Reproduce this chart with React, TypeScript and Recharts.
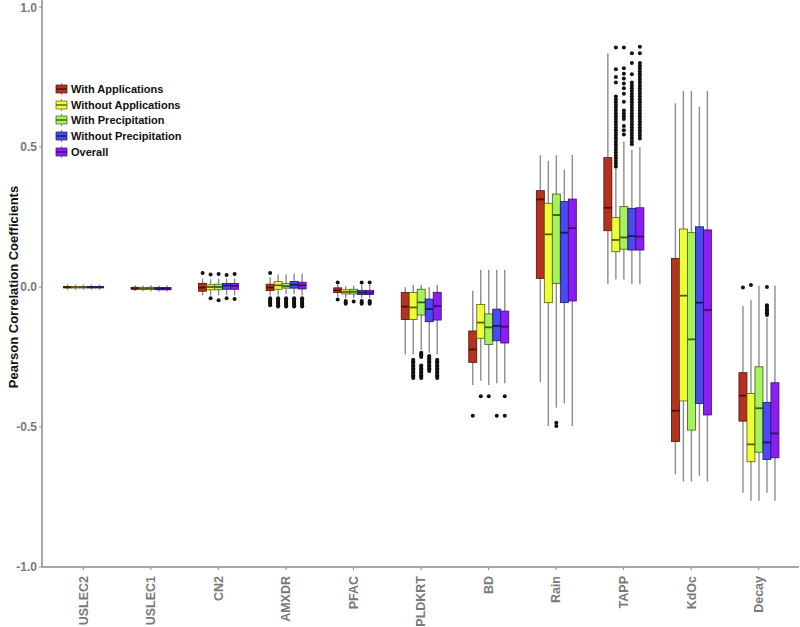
import React from 'react';
import { ComposedChart, Bar, XAxis, YAxis } from 'recharts';

const categories = ['USLEC2', 'USLEC1', 'CN2', 'AMXDR', 'PFAC', 'PLDKRT', 'BD', 'Rain', 'TAPP', 'KdOc', 'Decay'];
const seriesNames = ['With Applications', 'Without Applications', 'With Precipitation', 'Without Precipitation', 'Overall'];
const seriesFill = ['#B5321F', '#EDFF36', '#A5F25A', '#4A4AF2', '#8C1EF5'];
const seriesStroke = ['#4a1208', '#5c5c10', '#3e5e1c', '#1a1a5c', '#3a0c66'];
const yTicks = [-1, -0.5, 0, 0.5, 1];

// [min, q1, median, q3, max] for each category
const withApplications = [
  [-0.01, -0.003, -0.001, 0.002, 0.009],
  [-0.014, -0.008, -0.005, -0.001, 0.006],
  [-0.03, -0.015, -0.002, 0.013, 0.03],
  [-0.03, -0.013, -0.002, 0.01, 0.035],
  [-0.035, -0.02, -0.012, -0.003, 0.008],
  [-0.24, -0.116, -0.07, -0.02, -0.001],
  [-0.35, -0.269, -0.223, -0.157, -0.013],
  [-0.34, 0.031, 0.313, 0.344, 0.471],
  [0.01, 0.201, 0.283, 0.462, 0.835],
  [-0.669, -0.552, -0.442, 0.102, 0.656],
  [-0.735, -0.479, -0.388, -0.306, -0.068],
];
const withoutApplications = [
  [-0.01, -0.003, -0.001, 0.002, 0.009],
  [-0.015, -0.009, -0.006, -0.002, 0.005],
  [-0.03, -0.01, 0.0, 0.008, 0.028],
  [-0.03, -0.008, 0.006, 0.019, 0.045],
  [-0.04, -0.025, -0.018, -0.01, 0.003],
  [-0.24, -0.116, -0.073, -0.02, 0.007],
  [-0.335, -0.183, -0.127, -0.062, 0.061],
  [-0.496, -0.056, 0.188, 0.299, 0.451],
  [0.027, 0.126, 0.168, 0.248, 0.43],
  [-0.695, -0.407, -0.031, 0.207, 0.7],
  [-0.763, -0.624, -0.562, -0.38, -0.046],
];
const withPrecipitation = [
  [-0.01, -0.003, -0.001, 0.002, 0.009],
  [-0.015, -0.008, -0.005, -0.001, 0.006],
  [-0.03, -0.01, 0.0, 0.01, 0.03],
  [-0.025, -0.004, 0.003, 0.013, 0.045],
  [-0.04, -0.025, -0.017, -0.008, 0.005],
  [-0.225, -0.1, -0.055, -0.008, 0.007],
  [-0.35, -0.205, -0.144, -0.096, 0.061],
  [-0.431, 0.013, 0.257, 0.332, 0.471],
  [0.027, 0.135, 0.177, 0.287, 0.52],
  [-0.695, -0.511, -0.187, 0.194, 0.7],
  [-0.763, -0.59, -0.433, -0.285, 0.005],
];
const withoutPrecipitation = [
  [-0.01, -0.003, -0.001, 0.002, 0.009],
  [-0.016, -0.01, -0.006, -0.002, 0.005],
  [-0.028, -0.008, 0.005, 0.013, 0.03],
  [-0.025, -0.004, 0.008, 0.02, 0.048],
  [-0.04, -0.027, -0.02, -0.012, 0.008],
  [-0.235, -0.124, -0.079, -0.043, -0.001],
  [-0.344, -0.192, -0.139, -0.079, 0.061],
  [-0.415, -0.056, 0.194, 0.305, 0.42],
  [0.01, 0.132, 0.182, 0.281, 0.49],
  [-0.674, -0.416, -0.056, 0.215, 0.644],
  [-0.735, -0.616, -0.555, -0.412, -0.11],
];
const overall = [
  [-0.01, -0.003, -0.001, 0.002, 0.009],
  [-0.016, -0.01, -0.006, -0.002, 0.005],
  [-0.03, -0.008, 0.004, 0.013, 0.03],
  [-0.03, -0.007, 0.006, 0.017, 0.048],
  [-0.04, -0.027, -0.02, -0.012, 0.008],
  [-0.24, -0.118, -0.068, -0.019, 0.007],
  [-0.344, -0.2, -0.142, -0.086, 0.061],
  [-0.496, -0.05, 0.21, 0.314, 0.471],
  [0.01, 0.132, 0.18, 0.283, 0.5],
  [-0.695, -0.457, -0.082, 0.204, 0.7],
  [-0.763, -0.61, -0.523, -0.342, 0.005],
];

// outlier points, one list per category
const withApplicationsOut = [
  [], [], [0.05],
  [0.05, -0.04, -0.045, -0.05, -0.055, -0.06, -0.065],
  [0.016, -0.045], [], [-0.46], [], [], [], [-0.002],
];
const withoutApplicationsOut = [
  [], [], [0.045, -0.04],
  [-0.04, -0.045, -0.05, -0.055, -0.06, -0.065, -0.07],
  [-0.05, -0.055, -0.06],
  [-0.26, -0.265, -0.27, -0.275, -0.28, -0.285, -0.29, -0.295, -0.3, -0.305, -0.31, -0.315, -0.32, -0.325],
  [-0.39], [],
  [0.43, 0.44, 0.45, 0.46, 0.47, 0.48, 0.49, 0.5, 0.51, 0.52, 0.53, 0.54, 0.55, 0.56, 0.57, 0.58, 0.59, 0.6,
    0.61, 0.62, 0.63, 0.64, 0.65, 0.66, 0.67, 0.68, 0.73, 0.75, 0.778, 0.855],
  [], [0.007],
];
const withPrecipitationOut = [
  [], [], [0.046, -0.047],
  [-0.04, -0.045, -0.05, -0.055, -0.06, -0.065, -0.07],
  [-0.052],
  [-0.235, -0.24, -0.245, -0.25, -0.28, -0.285, -0.29, -0.295, -0.3, -0.305, -0.31, -0.315, -0.32, -0.325],
  [-0.39], [-0.485, -0.496],
  [0.545, 0.56, 0.575, 0.6, 0.61, 0.62, 0.63, 0.662, 0.69, 0.71, 0.727, 0.745, 0.762, 0.781, 0.855],
  [], [],
];
const withoutPrecipitationOut = [
  [], [], [0.043, -0.04],
  [-0.04, -0.045, -0.05, -0.055, -0.06, -0.065, -0.07],
  [0.016, -0.05, -0.055, -0.06],
  [-0.246, -0.25, -0.255, -0.26, -0.265, -0.27, -0.275, -0.28, -0.285, -0.29, -0.295, -0.3],
  [-0.46], [],
  [0.51, 0.52, 0.53, 0.54, 0.55, 0.56, 0.57, 0.58, 0.59, 0.6, 0.61, 0.62, 0.63, 0.64, 0.65, 0.66, 0.67, 0.68,
    0.69, 0.7, 0.71, 0.72, 0.73, 0.76, 0.8, 0.835],
  [], [0.0, -0.065, -0.07, -0.075, -0.08, -0.085, -0.09, -0.095, -0.1],
];
const overallOut = [
  [], [], [0.046, -0.043],
  [-0.04, -0.045, -0.05, -0.055, -0.06, -0.065, -0.07],
  [0.016, -0.05, -0.055, -0.06],
  [-0.26, -0.265, -0.27, -0.275, -0.28, -0.285, -0.29, -0.295, -0.3, -0.305, -0.31, -0.315, -0.32, -0.325],
  [-0.39, -0.46], [],
  [0.53, 0.54, 0.55, 0.56, 0.57, 0.58, 0.59, 0.6, 0.61, 0.62, 0.63, 0.64, 0.65, 0.66, 0.67, 0.68, 0.69, 0.7,
    0.71, 0.72, 0.73, 0.74, 0.75, 0.76, 0.77, 0.78, 0.79, 0.8, 0.835, 0.858],
  [], [],
];

const allStats = [withApplications, withoutApplications, withPrecipitation, withoutPrecipitation, overall];
const allOut = [withApplicationsOut, withoutApplicationsOut, withPrecipitationOut, withoutPrecipitationOut, overallOut];

const data = categories.map((name, ci) => ({
  name,
  stats: allStats.map((s) => s[ci]),
  out: allOut.map((o) => o[ci]),
}));

const FONT = '"Liberation Sans", Arial, sans-serif';

const BoxShape = (props: any) => {
  const { x, y, width, height, payload, si } = props;
  if (!payload) return null;
  const [lo, q1, med, q3, hi] = payload.stats[si];
  const top = Math.min(y, y + height);
  const h = Math.abs(height);
  const px = (v: number) => top + (h * (hi - v)) / (hi - lo);
  const cx = x + width / 2;
  const outs: number[] = payload.out[si];
  return (
    <g>
      <line x1={cx} x2={cx} y1={px(hi)} y2={px(lo)} stroke="#8c8c8c" strokeWidth={1.4} />
      <rect x={x} y={px(q3)} width={width} height={Math.max(px(q1) - px(q3), 0.8)}
        fill={seriesFill[si]} stroke={seriesStroke[si]} strokeWidth={0.8} />
      <line x1={x} x2={x + width} y1={px(med)} y2={px(med)} stroke={seriesStroke[si]} strokeWidth={1.8} />
      {outs.map((v, k) => (
        <circle key={k} cx={cx} cy={px(v)} r={2} fill="#111" />
      ))}
    </g>
  );
};

const XTick = (props: any) => {
  const { x, y, payload } = props;
  return (
    <g transform={`translate(${x},${y + 4})`}>
      <text transform="rotate(-90)" textAnchor="end" dy="0.35em" fill="#7a7a7a"
        fontSize={12.5} fontWeight="bold" fontFamily={FONT}>
        {payload.value}
      </text>
    </g>
  );
};

const LegendBox = () => (
  <div style={{ position: 'absolute', left: 55, top: 81, fontFamily: FONT, fontSize: 11, fontWeight: 'bold', color: '#111' }}>
    {seriesNames.map((n, i) => (
      <div key={n} style={{ display: 'flex', alignItems: 'center', height: 15.7 }}>
        <svg width={14} height={14} style={{ marginRight: 2 }}>
          <line x1={6.5} x2={6.5} y1={1} y2={13} stroke="#8c8c8c" strokeWidth={1.2} />
          <rect x={1} y={3} width={11} height={8} fill={seriesFill[i]} stroke={seriesStroke[i]} strokeWidth={0.7} />
          <line x1={1} x2={12} y1={7} y2={7} stroke={seriesStroke[i]} strokeWidth={1.4} />
        </svg>
        <span>{n}</span>
      </div>
    ))}
  </div>
);

export default function App() {
  return (
    <div style={{ position: 'relative', width: 800, height: 627, background: '#fff' }}>
      <style>{'body{margin:0}'}</style>
      <ComposedChart width={800} height={627} data={data} barGap={0} barSize={8}
        margin={{ top: 0, right: 1, bottom: 0, left: 0 }}>
        <XAxis dataKey="name" height={60} padding={{ left: 7.5, right: 6.5 }} interval={0}
          axisLine={{ stroke: '#8a8a8a', strokeWidth: 1.5 }} tickLine={{ stroke: '#8a8a8a' }} tickSize={3}
          tick={<XTick />} />
        <YAxis width={42} domain={[-1, 1.025]} ticks={yTicks} allowDataOverflow
          tickFormatter={(v: number) => v.toFixed(1)}
          axisLine={{ stroke: '#8a8a8a', strokeWidth: 1.5 }} tickLine={{ stroke: '#8a8a8a' }} tickSize={3}
          tick={{ fill: '#7a7a7a', fontSize: 12, fontWeight: 'bold', fontFamily: FONT }}
          label={{
            content: () => (
              <text x={13} y={287} transform="rotate(-90, 13, 287)" textAnchor="middle" dominantBaseline="central"
                fontSize={13} fontWeight="bold" fontFamily={FONT} fill="#111">
                Pearson Correlation Coefficients
              </text>
            ),
          }} />
        {seriesNames.map((n, i) => (
          <Bar key={n} name={n} dataKey={(d: any) => [d.stats[i][0], d.stats[i][4]]} fill={seriesFill[i]}
            isAnimationActive={false} shape={(p: any) => <BoxShape {...p} si={i} />} />
        ))}
      </ComposedChart>
      <LegendBox />
    </div>
  );
}
